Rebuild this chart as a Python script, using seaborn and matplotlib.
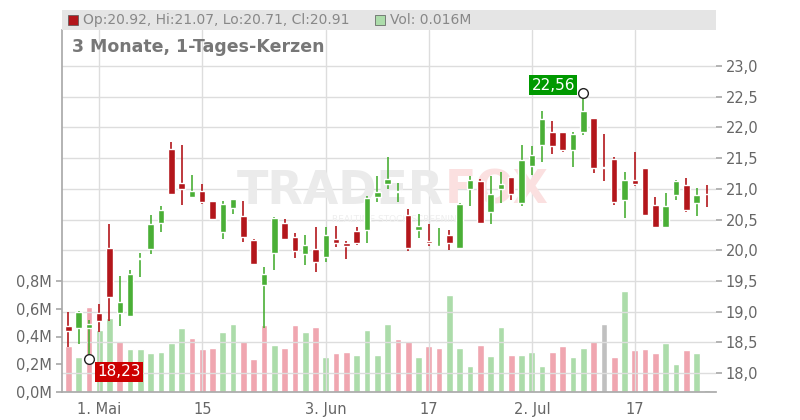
import numpy as np
import pandas as pd
import seaborn as sns
import matplotlib.pyplot as plt
from matplotlib.patches import Rectangle

# OHLC (index = trading day)
opens = [18.77, 18.74, 18.73, 18.98, 20.04, 18.98, 18.93, 19.85, 20.02, 20.45, 21.65, 21.10, 20.87, 20.96,
         20.80, 20.30, 20.68, 20.56, 20.17, 19.44, 19.96, 20.44, 20.21, 19.94, 20.02, 19.89, 20.18, 20.12,
         20.31, 20.33, 20.87, 21.08, 20.94, 20.57, 20.33, 20.15, 20.05, 20.24, 20.04, 21.00, 21.13, 20.62,
         21.00, 21.19, 20.77, 21.37, 21.72, 21.93, 21.93, 21.64, 21.93, 22.15, 21.36, 21.49, 20.81, 21.14,
         21.34, 20.74, 20.38, 20.90, 21.06, 20.77, 20.92]
closes = [18.69, 18.99, 18.80, 18.84, 19.23, 19.16, 19.61, 19.87, 20.43, 20.65, 20.92, 21.00, 20.96, 20.79,
          20.51, 20.75, 20.83, 20.22, 19.78, 19.61, 20.53, 20.19, 19.99, 20.08, 19.81, 20.24, 20.12, 20.07,
          20.12, 20.85, 20.95, 21.16, 20.96, 20.04, 20.39, 20.11, 20.07, 20.11, 20.75, 21.14, 20.45, 20.92,
          21.08, 20.92, 21.47, 21.55, 22.14, 21.70, 21.63, 21.89, 22.27, 21.34, 21.34, 20.79, 21.14, 21.08,
          20.58, 20.38, 20.72, 21.13, 20.66, 20.90, 20.91]
highs = [19.00, 19.01, 18.86, 19.12, 20.43, 19.58, 19.68, 19.95, 20.57, 20.72, 21.76, 21.71, 21.22, 21.08,
         20.80, 20.80, 20.83, 20.80, 20.19, 19.73, 20.54, 20.51, 20.28, 20.25, 20.37, 20.37, 20.39, 20.15,
         20.37, 20.89, 21.21, 21.52, 21.09, 20.67, 20.59, 20.43, 20.36, 20.33, 20.77, 21.21, 21.16, 21.21,
         21.28, 21.19, 21.71, 21.70, 22.27, 22.10, 21.93, 21.93, 22.56, 22.15, 21.89, 21.52, 21.27, 21.60,
         21.34, 20.87, 20.93, 21.14, 21.18, 21.01, 21.07]
lows = [18.43, 18.48, 18.23, 18.67, 18.84, 18.77, 18.91, 19.56, 19.94, 20.29, 20.92, 20.74, 20.87, 20.76,
        20.50, 20.19, 20.59, 20.14, 19.78, 18.74, 19.68, 20.17, 19.88, 19.76, 19.65, 19.80, 20.06, 19.86,
        20.09, 20.12, 20.79, 20.99, 20.79, 19.99, 20.20, 20.07, 20.03, 20.01, 20.04, 20.72, 20.44, 20.43,
        20.77, 20.82, 20.72, 21.23, 21.44, 21.57, 21.60, 21.36, 21.88, 21.26, 21.12, 20.74, 20.53, 21.05,
        20.58, 20.37, 20.38, 20.81, 20.63, 20.55, 20.71]
volumes = [0.33, 0.25, 0.61, 0.45, 0.53, 0.37, 0.31, 0.31, 0.28, 0.29, 0.35, 0.46, 0.39, 0.31, 0.32, 0.43,
           0.49, 0.37, 0.24, 0.48, 0.34, 0.32, 0.48, 0.43, 0.47, 0.25, 0.28, 0.29, 0.27, 0.45, 0.27, 0.49,
           0.38, 0.37, 0.25, 0.33, 0.32, 0.70, 0.32, 0.19, 0.34, 0.26, 0.47, 0.27, 0.27, 0.29, 0.19, 0.29,
           0.33, 0.25, 0.32, 0.37, 0.49, 0.25, 0.73, 0.30, 0.31, 0.28, 0.35, 0.20, 0.30, 0.28, 0.016]
# u = up day, d = down day, n = unchanged
vol_dir = ["d", "u", "d", "u", "u", "d", "u", "u", "u", "u", "u", "u", "d", "d", "d", "u",
           "u", "d", "d", "d", "u", "d", "d", "u", "d", "u", "d", "d", "u", "u", "u", "u",
           "d", "d", "u", "d", "d", "u", "u", "u", "d", "u", "u", "d", "u", "u", "u", "d",
           "d", "u", "u", "d", "n", "d", "u", "d", "d", "d", "u", "u", "d", "u", "u"]
tick_pos = [3, 13, 25, 35, 45, 55]
tick_labels = ["1. Mai", "15", "3. Jun", "17", "2. Jul", "17"]

RED, GREEN = "#b3161b", "#4aaf36"
sns.set_theme(style="white", font="DejaVu Sans")
fig = plt.figure(figsize=(8, 4.2), dpi=100)
ax = fig.add_axes([62 / 800, 28 / 420, 654 / 800, 362 / 420])
vax = ax.twinx()

idx = np.arange(len(opens))
df = pd.DataFrame({"i": idx, "vol": volumes, "dir": vol_dir})

# volume bars on the background axis
sns.barplot(data=df, x="i", y="vol", hue="dir", native_scale=True, dodge=False, width=0.65, saturation=1,
            palette={"u": "#acdcaa", "d": "#f0a6b0", "n": "#c0c0c0"}, legend=False, ax=vax, zorder=1)
vax.set_ylim(0, 362 / 138.75)

ax.set_ylim(23 - 326 / 61.4, 23 + 36 / 61.4)
ax.set_xlim(-0.61, 62.88)
ax.set_zorder(vax.get_zorder() + 1)
ax.patch.set_visible(False)

o, c = np.array(opens), np.array(closes)
col = np.where(c >= o, GREEN, RED)
ax.vlines(idx, lows, highs, colors=col, lw=1.2, zorder=3)
body = np.maximum(np.abs(c - o), 0.012)
ax.bar(idx, body, bottom=np.minimum(o, c), width=0.63, color=col, zorder=4)

# grid
for p in np.arange(18.0, 23.01, 0.5):
    ax.axhline(p, color="#dddddd", lw=1, zorder=0)
for t in tick_pos:
    ax.axvline(t, color="#dddddd", lw=1, zorder=0)

ax.yaxis.tick_right()
ax.set_yticks(np.arange(18.0, 23.01, 0.5))
ax.set_yticklabels([f"{v:.1f}".replace(".", ",") for v in np.arange(18.0, 23.01, 0.5)],
                   color="#666666", fontsize=10.5)
ax.set_xticks(tick_pos)
ax.set_xticklabels(tick_labels, color="#666666", fontsize=10.5)
ax.tick_params(axis="both", length=4, color="#aaaaaa", pad=3)
vax.yaxis.tick_left()
vax.set_yticks([0, 0.2, 0.4, 0.6, 0.8])
vax.set_yticklabels(["0,0M", "0,2M", "0,4M", "0,6M", "0,8M"], color="#666666", fontsize=10.5)
vax.tick_params(axis="y", length=4, color="#aaaaaa")
vax.set_xlabel("")
vax.set_ylabel("")
for a in (ax, vax):
    for s in a.spines.values():
        s.set_visible(False)
ax.spines["left"].set_visible(True)
ax.spines["bottom"].set_visible(True)
ax.spines["left"].set_color("#aaaaaa")
ax.spines["bottom"].set_color("#aaaaaa")

# watermark
ax.text(36.5, 20.96, "TRADER", fontsize=33, fontweight="bold", color="#ebebeb", ha="right", va="center", zorder=2)
ax.text(36.5, 20.96, "FOX", fontsize=33, fontweight="bold", color="#fbe0e0", ha="left", va="center", zorder=2)
ax.text(32, 20.5, "REALTIME STOCK SCREENING", fontsize=6.5, color="#eeeeee", ha="center", va="center", zorder=2)

# min / max markers
ax.plot(2, 18.23, "o", mfc="white", mec="#222222", ms=7, mew=1, zorder=6)
ax.text(2.8, 18.02, "18,23", color="white", fontsize=11, ha="left", va="center", zorder=7,
        bbox=dict(boxstyle="square,pad=0.15", fc="#cc0000", ec="none"))
ax.plot(50, 22.56, "o", mfc="white", mec="#222222", ms=7, mew=1, zorder=6)
ax.text(49.2, 22.69, "22,56", color="white", fontsize=11, ha="right", va="center", zorder=7,
        bbox=dict(boxstyle="square,pad=0.15", fc="#009900", ec="none"))

# header band
fig.patches.append(Rectangle((62 / 800, 390 / 420), 654 / 800, 20 / 420, transform=fig.transFigure,
                             fc="#e5e5e5", ec="none"))
fig.patches.append(Rectangle((68 / 800, 395 / 420), 10 / 800, 10 / 420, transform=fig.transFigure,
                             fc=RED, ec="#555555", lw=0.5))
fig.text(83 / 800, 400 / 420, f"Op:{opens[-1]:.2f}, Hi:{highs[-1]:.2f}, Lo:{lows[-1]:.2f}, Cl:{closes[-1]:.2f}",
         fontsize=10, color="#888888", va="center")
fig.patches.append(Rectangle((375 / 800, 395 / 420), 10 / 800, 10 / 420, transform=fig.transFigure,
                             fc="#acdcaa", ec="#555555", lw=0.5))
fig.text(390 / 800, 400 / 420, f"Vol: {volumes[-1]:.3f}M", fontsize=10, color="#888888", va="center")
fig.text(72 / 800, 373 / 420, "3 Monate, 1-Tages-Kerzen", fontsize=12.5, fontweight="bold",
         color="#777777", va="center")

fig.savefig("out.png", dpi=100)
